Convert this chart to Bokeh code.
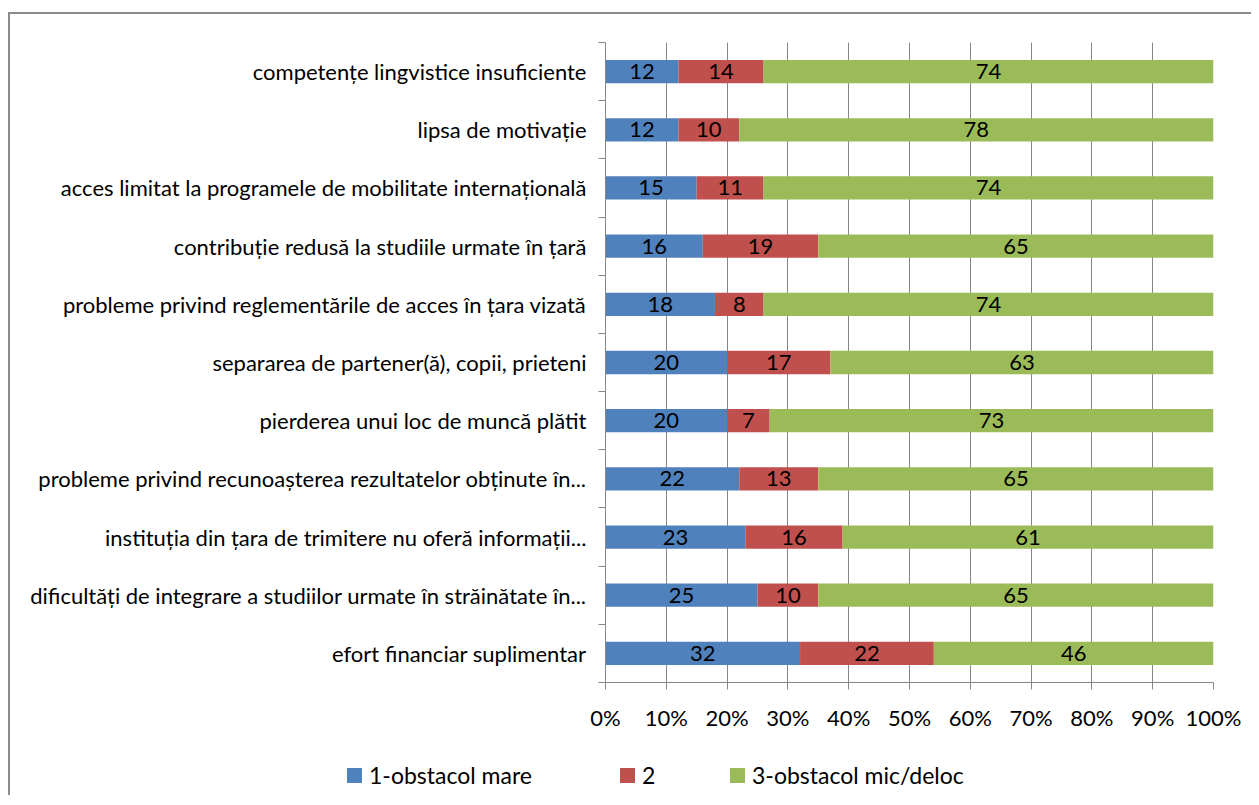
from bokeh.plotting import figure
from bokeh.layouts import column
from bokeh.models import (ColumnDataSource, FixedTicker, Range1d, Div,
                          PrintfTickFormatter, LabelSet)
from bokeh.core.properties import value
from bokeh.embed import file_html
from bokeh.resources import INLINE

categories = [
    "competențe lingvistice insuficiente",
    "lipsa de motivație",
    "acces limitat la programele de mobilitate internațională",
    "contribuție redusă la studiile urmate în țară",
    "probleme privind reglementările de acces în țara vizată",
    "separarea de partener(ă), copii, prieteni",
    "pierderea unui loc de muncă plătit",
    "probleme privind recunoașterea rezultatelor obținute în...",
    "instituția din țara de trimitere nu oferă informații...",
    "dificultăți de integrare a studiilor urmate în străinătate în...",
    "efort financiar suplimentar",
]
s1 = [12, 12, 15, 16, 18, 20, 20, 22, 23, 25, 32]
s2 = [14, 10, 11, 19, 8, 17, 7, 13, 16, 10, 22]
s3 = [74, 78, 74, 65, 74, 63, 73, 65, 61, 65, 46]
series_names = ["1-obstacol mare", "2", "3-obstacol mic/deloc"]
colors = ["#4F81BD", "#C0504D", "#9BBB59"]
x_ticks = [0, 10, 20, 30, 40, 50, 60, 70, 80, 90, 100]

FONT = "Lato"
FS = "22px"
LEG_FS = "23px"
n = len(categories)
# first category at top
ypos = [n - 1 - i for i in range(n)]

src = ColumnDataSource(dict(
    y=ypos, s1=s1, s2=s2, s3=s3,
    m1=[a / 2 for a in s1],
    m2=[a + b / 2 for a, b in zip(s1, s2)],
    m3=[a + b + c / 2 for a, b, c in zip(s1, s2, s3)],
    t1=[str(v) for v in s1], t2=[str(v) for v in s2], t3=[str(v) for v in s3],
))

p = figure(width=1241, height=719, output_backend="svg", toolbar_location=None,
           x_range=Range1d(0, 100), y_range=Range1d(-0.5, n - 0.5),
           min_border_left=595, min_border_right=38, min_border_top=28, min_border_bottom=50)
p.outline_line_color = None

renderers = p.hbar_stack(["s1", "s2", "s3"], y="y", height=0.4, color=colors,
                         line_color=None, source=src)

for col, txt in (("m1", "t1"), ("m2", "t2"), ("m3", "t3")):
    p.add_layout(LabelSet(x=col, y="y", text=txt, source=src, text_align="center",
                          text_baseline="middle", text_font=value(FONT),
                          text_font_size=value(FS), text_color=value("black")))

# x axis
p.xaxis.ticker = FixedTicker(ticks=x_ticks, minor_ticks=[])
p.xaxis.formatter = PrintfTickFormatter(format="%d%%")
p.xaxis.major_tick_out = 7
p.xaxis.major_tick_in = 0
p.xaxis.minor_tick_line_color = None
p.xaxis.axis_line_color = "#868686"
p.xaxis.major_tick_line_color = "#868686"
p.xaxis.major_label_standoff = 14
p.xaxis.major_label_text_font = FONT
p.xaxis.major_label_text_font_size = FS
p.xaxis.major_label_text_color = "black"

p.xgrid.ticker = FixedTicker(ticks=x_ticks)
p.xgrid.grid_line_color = "#868686"
p.ygrid.grid_line_color = None

# y axis
p.yaxis.ticker = FixedTicker(ticks=list(range(n)),
                             minor_ticks=[i - 0.5 for i in range(n + 1)])
p.yaxis.major_label_overrides = {ypos[i]: categories[i] for i in range(n)}
p.yaxis.major_tick_out = 0
p.yaxis.major_tick_in = 0
p.yaxis.minor_tick_out = 7
p.yaxis.minor_tick_in = 0
p.yaxis.minor_tick_line_color = "#868686"
p.yaxis.axis_line_color = "#868686"
p.yaxis.major_label_standoff = 12
p.yaxis.major_label_text_font = FONT
p.yaxis.major_label_text_font_size = FS
p.yaxis.major_label_text_color = "black"

# legend strip (HTML)
item_left = [337, 610, 720]
parts = []
for name, c, left in zip(series_names, colors, item_left):
    parts.append(
        f'<div style="position:absolute; left:{left}px; top:30px; height:24px; '
        f'display:flex; align-items:center; white-space:nowrap;">'
        f'<span style="display:inline-block; width:15px; height:15px; background:{c}; '
        f'margin-right:7px;"></span>'
        f'<span style="font-family:{FONT}; font-size:{LEG_FS}; color:black;">{name}</span></div>'
    )
legend_div = Div(text='<div style="position:relative; width:1241px; height:60px;">'
                 + "".join(parts) + "</div>",
                 width=1241, height=62, margin=0)

layout = column(p, legend_div, spacing=0)
layout.styles = {"border-left": "2px solid #8C8C8C", "border-top": "2px solid #8C8C8C",
                 "margin-top": "12px", "margin-left": "8px"}

open("out.html", "w").write(file_html(layout, INLINE))
